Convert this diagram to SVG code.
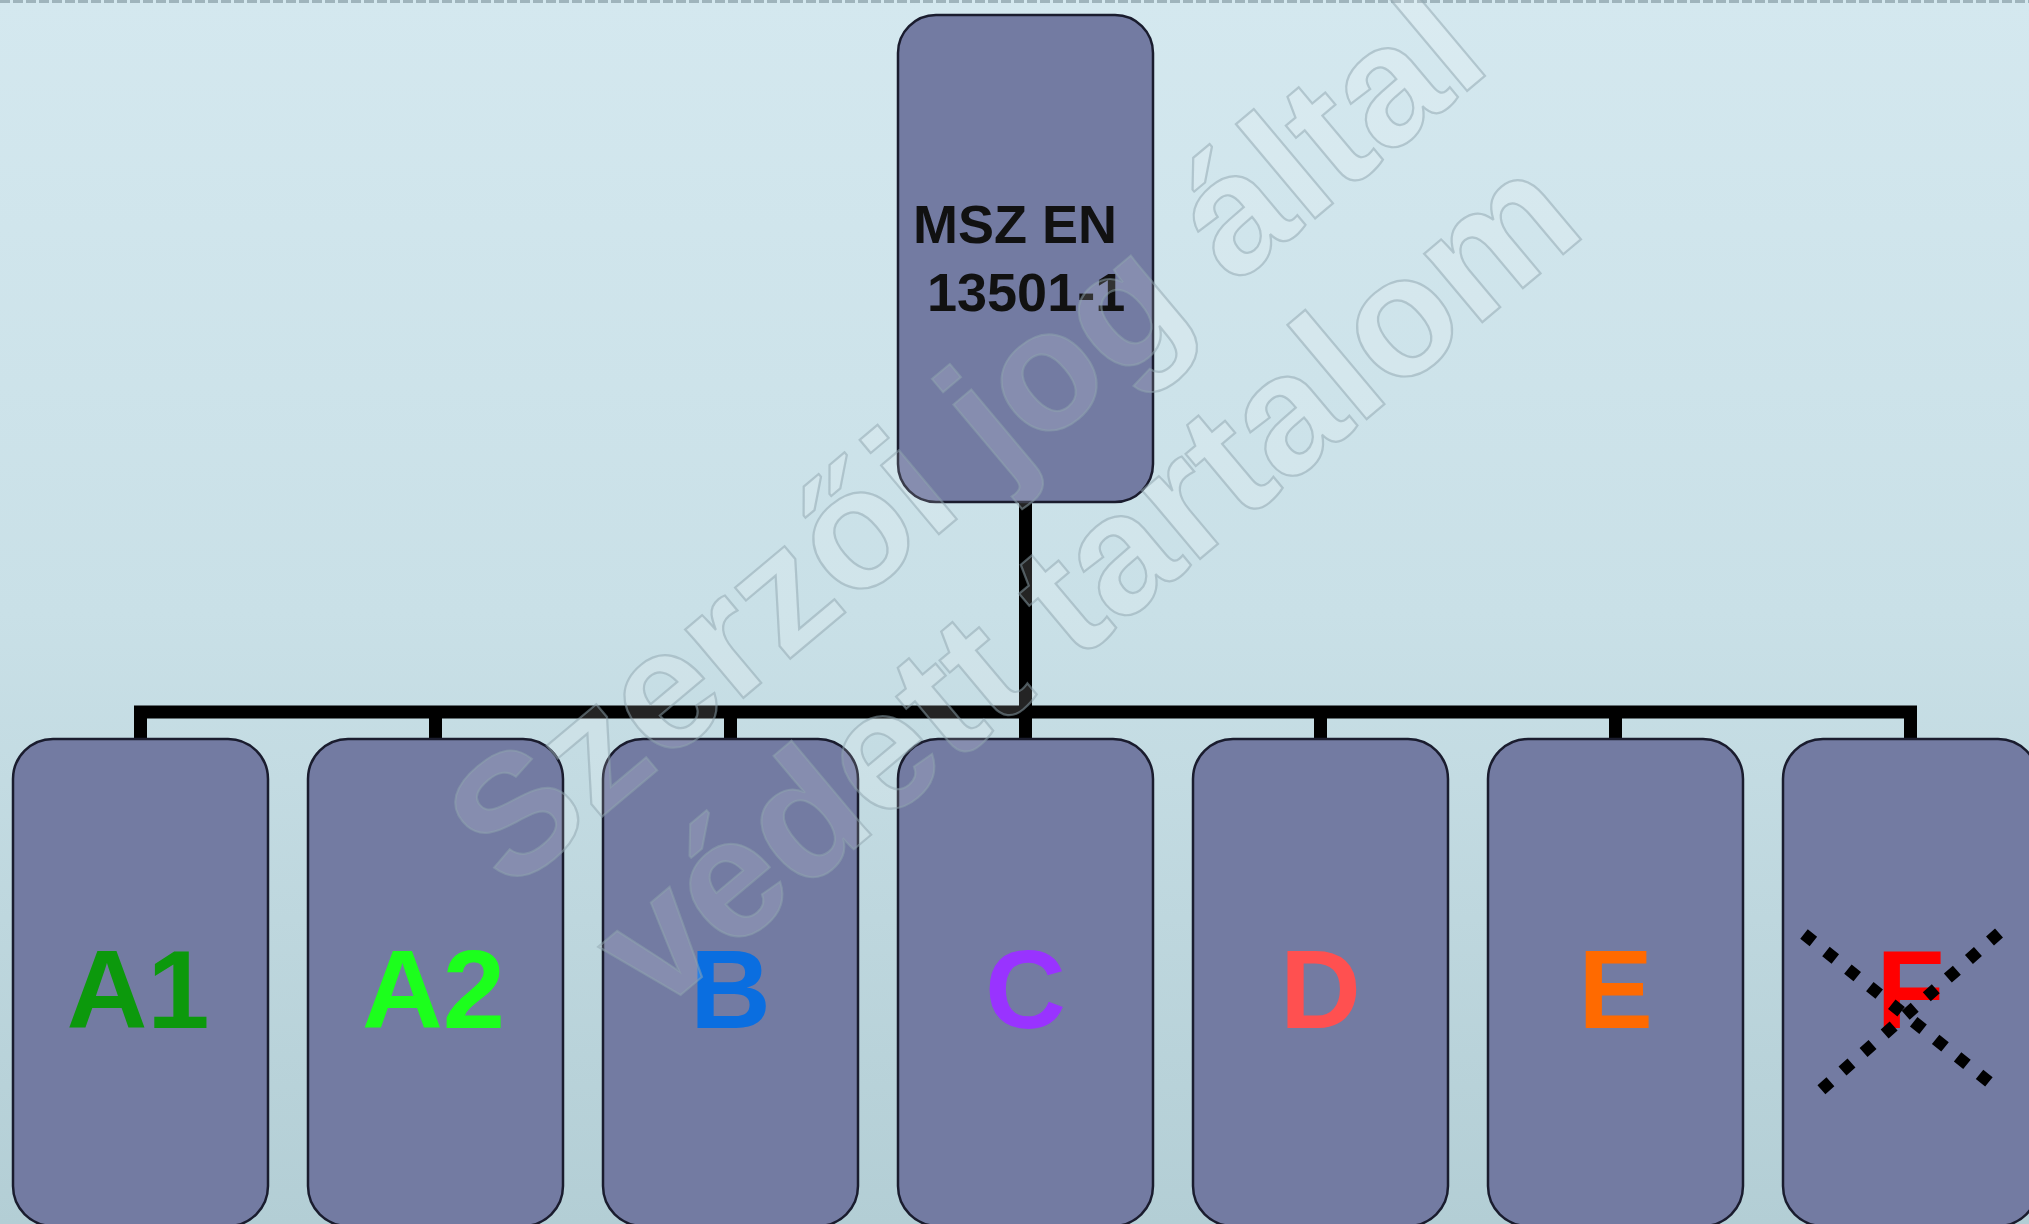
<svg xmlns="http://www.w3.org/2000/svg" width="2029" height="1224" viewBox="0 0 2029 1224">
  <defs>
    <linearGradient id="bg" x1="0" y1="0" x2="0" y2="1">
      <stop offset="0" stop-color="#d4e8ef"/>
      <stop offset="0.5" stop-color="#c9e0e7"/>
      <stop offset="1" stop-color="#b3ced5"/>
    </linearGradient>
    <style>
      .box { fill: #737ba2; stroke: #1a1c2e; stroke-width: 2.5; }
      .conn { fill: none; stroke: #000; stroke-width: 13; stroke-linejoin: miter; }
      .title { font-family: "Liberation Sans", Arial, sans-serif; font-weight: bold; font-size: 54px; fill: #111; }
      .lbl { font-family: "Liberation Sans", Arial, sans-serif; font-weight: bold; font-size: 112px; text-anchor: middle; }
      .wm { font-family: "Liberation Sans", Arial, sans-serif; font-weight: bold; font-size: 170px; text-anchor: middle; fill: #ffffff; fill-opacity: 0.14; stroke: #8ea4ad; stroke-opacity: 0.5; stroke-width: 2.2; }
      .cross { fill: none; stroke: #000; stroke-width: 12; stroke-dasharray: 12 16.1; }
    </style>
  </defs>

  <rect x="0" y="0" width="2029" height="1224" fill="url(#bg)"/>
  <line x1="0" y1="1.5" x2="2029" y2="1.5" stroke="#9fb4bc" stroke-width="3" stroke-dasharray="10 3"/>

  <g id="connectors">
    <path class="conn" d="M1025.5,502 V712"/>
    <path class="conn" d="M140.5,739 V712 H1910.5 V739"/>
    <path class="conn" d="M435.5,712 V739 M730.5,712 V739 M1025.5,712 V739 M1320.5,712 V739 M1615.5,712 V739"/>
  </g>

  <g id="node-root">
    <rect class="box" x="898" y="15" width="255" height="487" rx="38" ry="38"/>
    <text class="title" x="913" y="243">MSZ EN</text>
    <text class="title" x="927" y="311">13501-1</text>
  </g>

  <g id="node-A1">
    <rect class="box" x="13" y="739" width="255" height="487" rx="40" ry="40"/>
    <text class="lbl" x="138" y="1028" fill="#0c990c">A1</text>
  </g>
  <g id="node-A2">
    <rect class="box" x="308" y="739" width="255" height="487" rx="40" ry="40"/>
    <text class="lbl" x="433.5" y="1028" fill="#1cff1c">A2</text>
  </g>
  <g id="node-B">
    <rect class="box" x="603" y="739" width="255" height="487" rx="40" ry="40"/>
    <text class="lbl" x="730.5" y="1028" fill="#0a6ee0">B</text>
  </g>
  <g id="node-C">
    <rect class="box" x="898" y="739" width="255" height="487" rx="40" ry="40"/>
    <text class="lbl" x="1025.5" y="1028" fill="#9933ff">C</text>
  </g>
  <g id="node-D">
    <rect class="box" x="1193" y="739" width="255" height="487" rx="40" ry="40"/>
    <text class="lbl" x="1320.5" y="1028" fill="#ff5050">D</text>
  </g>
  <g id="node-E">
    <rect class="box" x="1488" y="739" width="255" height="487" rx="40" ry="40"/>
    <text class="lbl" x="1615.5" y="1028" fill="#ff6a00">E</text>
  </g>
  <g id="node-F">
    <rect class="box" x="1783" y="739" width="255" height="487" rx="40" ry="40"/>
    <text class="lbl" x="1910.5" y="1028" fill="#ff0000">F</text>
    <line class="cross" x1="1804" y1="934" x2="1989" y2="1082"/>
    <line class="cross" x1="1999" y1="933" x2="1821" y2="1090"/>
  </g>

  <g id="watermark" transform="translate(1002,481) rotate(-40)">
    <text class="wm" x="0" y="0">Szerzői jog által</text>
    <text class="wm" x="0" y="187">védett tartalom</text>
  </g>
</svg>
